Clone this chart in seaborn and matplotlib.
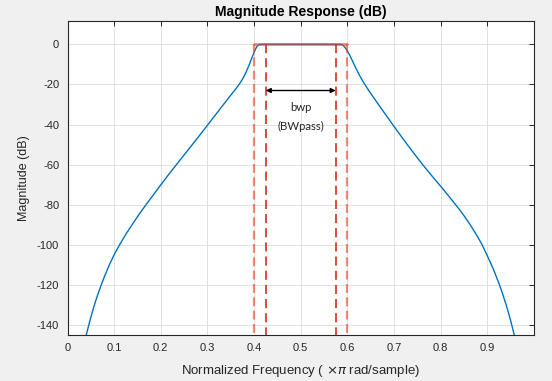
import numpy as np
import pandas as pd
import matplotlib
matplotlib.use("Agg")
import matplotlib.pyplot as plt
import seaborn as sns

# Magnitude response (normalized freq, dB)
freq = [0.037, 0.040, 0.044, 0.047, 0.050, 0.055, 0.060, 0.065, 0.073, 0.080,
        0.090, 0.100, 0.112, 0.125, 0.140, 0.155, 0.168, 0.185, 0.200, 0.218,
        0.235, 0.250, 0.265, 0.285, 0.300, 0.315, 0.330, 0.345, 0.358, 0.363,
        0.369, 0.375, 0.380, 0.385, 0.390, 0.395, 0.400, 0.403, 0.406, 0.409,
        0.412, 0.416, 0.450, 0.500, 0.550, 0.583, 0.587, 0.590, 0.593, 0.596,
        0.600, 0.605, 0.610, 0.615, 0.620, 0.626, 0.632, 0.638, 0.645, 0.655,
        0.668, 0.685, 0.700, 0.715, 0.730, 0.745, 0.762, 0.780, 0.800, 0.818,
        0.837, 0.852, 0.865, 0.877, 0.887, 0.900, 0.913, 0.924, 0.932, 0.940,
        0.946, 0.950, 0.955, 0.960, 0.963]
mag_db = [-147.9, -145.0, -141.3, -138.6, -136.0, -131.9, -128.1, -124.6, -119.4, -115.2,
          -109.7, -104.8, -99.7, -94.6, -89.3, -84.2, -80.0, -74.7, -70.0, -64.5,
          -59.5, -55.1, -50.7, -44.8, -40.3, -35.8, -31.3, -26.8, -23.0, -21.5,
          -19.6, -17.4, -15.2, -12.7, -9.9, -6.9, -4.0, -2.4, -1.1, -0.35,
          -0.05, 0.0, 0.0, 0.0, 0.0, 0.0, -0.1, -0.4, -1.0, -1.9,
          -3.3, -5.4, -7.8, -10.3, -12.7, -15.4, -17.9, -20.2, -22.7, -26.1,
          -30.4, -36.0, -40.9, -45.7, -50.4, -55.0, -60.1, -65.2, -70.7, -75.8,
          -81.3, -86.0, -90.5, -95.0, -99.0, -105.3, -112.0, -118.5, -123.7, -129.5,
          -134.2, -137.6, -142.2, -147.0, -149.5]

# passband mask edges and the bwp markers
pass_edges = [0.4, 0.6]
bwp_edges = [0.425, 0.575]
arrow_db = -23
x_ticks = [0, 0.1, 0.2, 0.3, 0.4, 0.5, 0.6, 0.7, 0.8, 0.9]
y_ticks = [-140, -120, -100, -80, -60, -40, -20, 0]
x_lim = (0, 1)
y_lim = (-144.8, 11.4)

sns.set_style("whitegrid")
plt.rcParams["font.family"] = ["Liberation Sans", "DejaVu Sans"]
plt.rcParams["axes.unicode_minus"] = False

df = pd.DataFrame({"freq": freq, "mag": mag_db})

fig = plt.figure(figsize=(5.52, 3.81), dpi=100, facecolor="#f0f0f0")
ax = fig.add_axes([0.1223, 0.1207, 0.845, 0.823])
ax.set_facecolor("white")

# mask
ax.plot(pass_edges, [0, 0], color="#e8421e", alpha=0.6, lw=2, zorder=3)
for xe in pass_edges:
    ax.plot([xe, xe], [0, y_lim[0]], color="#e8421e", alpha=0.6, lw=1.6,
            dashes=(4, 2), zorder=3)
for xe in bwp_edges:
    ax.plot([xe, xe], [0, y_lim[0]], color="#d32f1a", lw=1.2,
            dashes=(5.5, 3), zorder=3)

sns.lineplot(data=df, x="freq", y="mag", color="#0072bd", lw=1.0, ax=ax,
             zorder=2, sort=False)

ax.annotate("", xy=(bwp_edges[0], arrow_db), xytext=(bwp_edges[1], arrow_db),
            arrowprops=dict(arrowstyle="<|-|>", color="black", lw=1,
                            mutation_scale=7, shrinkA=0, shrinkB=0))
mid = np.mean(bwp_edges)
ax.text(mid, -31.5, "bwp", ha="center", va="center", fontsize=8.2,
        family=["Lato", "DejaVu Sans"])
ax.text(mid, -41, "(BWpass)", ha="center", va="center", fontsize=8.2,
        family=["Lato", "DejaVu Sans"])

ax.set_xlim(x_lim)
ax.set_ylim(y_lim)
ax.set_xticks(x_ticks)
ax.set_yticks(y_ticks)
ax.set_xticklabels([f"{t:g}" for t in x_ticks])
ax.grid(True, color="#dcdcdc", lw=0.6)
ax.tick_params(direction="in", length=3.5, width=0.7, top=True, right=True,
               colors="#262626", labelsize=8, pad=6)
for s in ax.spines.values():
    s.set_visible(True)
    s.set_color("#262626")
    s.set_linewidth(0.8)

ax.set_title("Magnitude Response (dB)", fontsize=10, fontweight="bold",
             color="black", pad=4)
ax.set_xlabel("Normalized Frequency ( $\\times\\pi$ rad/sample)", fontsize=9.5,
              color="#262626", labelpad=7)
ax.set_ylabel("Magnitude (dB)", fontsize=9, color="#262626", labelpad=5)

fig.savefig("out.png", dpi=100, facecolor=fig.get_facecolor())
plt.close(fig)
